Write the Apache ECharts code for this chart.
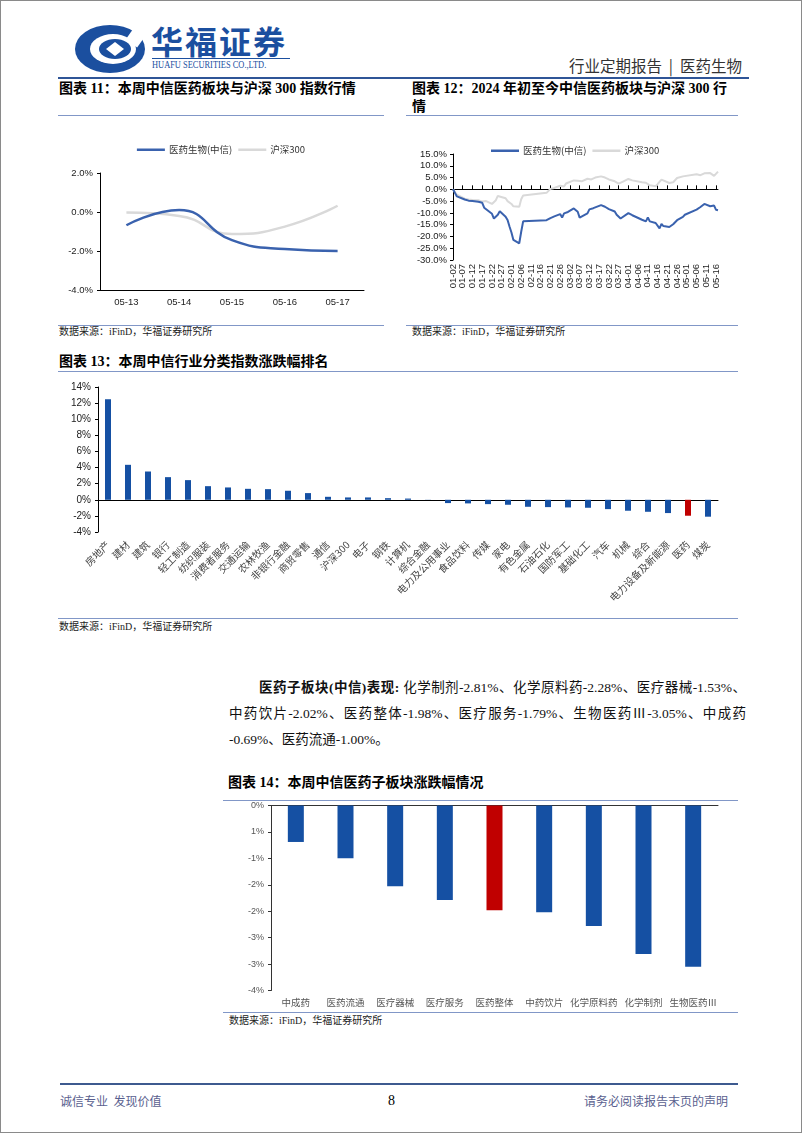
<!DOCTYPE html>
<html><head><meta charset="utf-8">
<script src="https://cdn.jsdelivr.net/npm/echarts@6/dist/echarts.min.js"></script>
<style>
html,body{margin:0;padding:0;background:#fff;}
#page{position:relative;width:802px;height:1133px;box-sizing:border-box;border:1px solid #8a8a8a;overflow:hidden;font-family:"Noto Sans CJK SC",sans-serif;color:#000;}
.abs{position:absolute;white-space:nowrap;}
.title{font-family:"Liberation Serif","Noto Sans CJK SC",serif;font-size:14px;font-weight:bold;line-height:18px;}
.src{font-family:"Liberation Serif","Noto Sans CJK SC",serif;font-size:10px;color:#222;line-height:12px;}
.hl{position:absolute;height:0;border-top:1.5px solid #8197C7;}
.chart{position:absolute;}
.para{position:absolute;font-family:"Liberation Serif","Noto Sans CJK SC",serif;font-size:13.5px;color:#111;}
.pl{height:26.3px;line-height:26.3px;text-align:justify;text-align-last:justify;}
.pl.last{text-align-last:left;}
</style></head>
<body>
<div id="page">
  <!-- header -->
  <svg class="abs" style="left:72px;top:22px" width="76" height="52" viewBox="0 0 76 52">
    <ellipse cx="37" cy="26" rx="35" ry="24" fill="#1b4f9f"/>
    <ellipse cx="40" cy="26" rx="23" ry="15" fill="#fff"/>
    <ellipse cx="42" cy="26" rx="16" ry="10" fill="#1b4f9f"/>
    <polygon points="42,19 51,26 42,33 33,26" fill="#fff"/>
    <rect x="56" y="6" width="14" height="16" fill="#fff" transform="rotate(35 63 14)"/>
  </svg>
  <div class="abs" style="left:150px;top:20px;font-size:32px;font-weight:bold;color:#1b4f9f;letter-spacing:2px;line-height:38px;">华福证券</div>
  <div class="abs" style="left:151px;top:57px;width:138px;border-top:1px solid #1b4f9f;"></div>
  <div class="abs" style="left:151px;top:58px;font-family:'Liberation Serif',serif;font-size:10.5px;color:#1b4f9f;transform:scaleX(0.8);transform-origin:left top;line-height:12px;">HUAFU SECURITIES CO.,LTD.</div>
  <div class="abs" style="right:59px;top:54px;font-size:15.5px;color:#333;line-height:20px;">行业定期报告&nbsp;&nbsp;|&nbsp;&nbsp;医药生物</div>
  <div class="abs" style="left:57px;top:76px;width:691px;border-top:2px solid #2f5597;"></div>

  <!-- chart 11 / 12 titles -->
  <div class="abs title" style="left:58px;top:79px;">图表 11：本周中信医药板块与沪深 300 指数行情</div>
  <div class="abs title" style="left:411px;top:79px;">图表 12：2024 年初至今中信医药板块与沪深 300 行<br>情</div>
  <div class="hl" style="left:57px;top:113.5px;width:326px;"></div>
  <div class="hl" style="left:405px;top:113.5px;width:332px;"></div>
  <div id="c11" class="chart" style="left:57px;top:115px;width:326px;height:208px;"></div>
  <div id="c12" class="chart" style="left:405px;top:115px;width:332px;height:208px;"></div>
  <div class="hl" style="left:57px;top:323.5px;width:326px;"></div>
  <div class="hl" style="left:405px;top:323.5px;width:332px;"></div>
  <div class="abs src" style="left:58px;top:325px;">数据来源：iFinD，华福证券研究所</div>
  <div class="abs src" style="left:411px;top:325px;">数据来源：iFinD，华福证券研究所</div>

  <!-- chart 13 -->
  <div class="abs title" style="left:58px;top:352px;">图表 13：本周中信行业分类指数涨跌幅排名</div>
  <div class="hl" style="left:57px;top:370px;width:680px;"></div>
  <div id="c13" class="chart" style="left:57px;top:372px;width:680px;height:245px;"></div>
  <div class="hl" style="left:57px;top:617px;width:680px;"></div>
  <div class="abs src" style="left:58px;top:620px;">数据来源：iFinD，华福证券研究所</div>

  <!-- paragraph -->
  <div class="para" style="left:228px;top:673.5px;width:517px;">
    <div class="pl" style="padding-left:30px;"><b>医药子板块(中信)表现:</b> 化学制剂-2.81%、化学原料药-2.28%、医疗器械-1.53%、</div>
    <div class="pl">中药饮片-2.02%、医药整体-1.98%、医疗服务-1.79%、生物医药Ⅲ-3.05%、中成药</div>
    <div class="pl last">-0.69%、医药流通-1.00%。</div>
  </div>

  <!-- chart 14 -->
  <div class="abs title" style="left:227px;top:773px;">图表 14：本周中信医药子板块涨跌幅情况</div>
  <div class="hl" style="left:222px;top:799px;width:515px;"></div>
  <div id="c14" class="chart" style="left:222px;top:800px;width:515px;height:211px;"></div>
  <div class="hl" style="left:222px;top:1011px;width:515px;"></div>
  <div class="abs src" style="left:228px;top:1014px;">数据来源：iFinD，华福证券研究所</div>

  <!-- footer -->
  <div class="abs" style="left:59px;top:1082px;width:678px;border-top:2px solid #3d5a8f;"></div>
  <div class="abs" style="left:59px;top:1092px;font-size:12px;color:#5a5f8f;line-height:16px;">诚信专业&nbsp;&nbsp;发现价值</div>
  <div class="abs" style="left:387px;top:1091px;font-family:'Liberation Serif',serif;font-size:14px;color:#000;line-height:18px;">8</div>
  <div class="abs" style="right:73px;top:1092px;font-size:12px;color:#5a5f8f;line-height:16px;">请务必阅读报告末页的声明</div>
</div>

<script>
// ---------- Chart 11 data ----------
const c11Cats = ['05-13','05-14','05-15','05-16','05-17'];
const c11Health = [-0.68, 0.10, -1.44, -1.90, -2.00];
const c11Hs300 = [-0.03, -0.20, -1.13, -0.75, 0.32];
const seriesNames = ['医药生物(中信)', '沪深300'];

// ---------- Chart 12 data (calendar dates, trading-day readings) ----------
const c12Health = [
 ['01-02',0],['01-03',-1.5],['01-04',-3.0],['01-05',-3.8],['01-08',-4.3],['01-09',-4.6],['01-10',-4.8],['01-11',-4.7],['01-12',-5.0],
 ['01-15',-5.3],['01-16',-5.4],['01-17',-5.7],['01-18',-7.8],['01-19',-8.3],['01-22',-10.4],['01-23',-12.4],['01-24',-11.8],['01-25',-10.8],['01-26',-9.3],
 ['01-29',-11.6],['01-30',-13.0],['01-31',-15.8],['02-01',-18.3],['02-02',-21.5],['02-05',-22.9],['02-06',-18.0],['02-07',-13.6],['02-08',-13.1],
 ['02-19',-13.1],['02-20',-12.5],['02-21',-12.2],['02-22',-11.7],['02-23',-11.5],['02-26',-10.5],['02-27',-12.0],['02-28',-10.2],['02-29',-10.0],['03-01',-9.6],
 ['03-04',-8.1],['03-05',-8.4],['03-06',-9.5],['03-07',-12.0],['03-08',-11.6],['03-11',-10.2],['03-12',-8.5],['03-13',-8.2],['03-14',-8.0],['03-15',-7.7],
 ['03-18',-6.7],['03-19',-6.5],['03-20',-7.4],['03-21',-7.8],['03-22',-8.4],['03-25',-9.4],['03-26',-10.8],['03-27',-11.3],['03-28',-12.4],['03-29',-11.7],
 ['04-01',-10.1],['04-02',-10.6],['04-03',-11.0],['04-08',-12.9],['04-09',-13.2],['04-10',-13.6],['04-11',-11.9],['04-12',-13.6],
 ['04-15',-14.3],['04-16',-14.6],['04-17',-16.6],['04-18',-14.7],['04-19',-15.6],['04-22',-16.0],['04-23',-15.6],['04-24',-14.8],['04-25',-14.2],['04-26',-13.1],
 ['04-29',-11.7],['04-30',-10.8],['05-06',-8.6],['05-07',-8.0],['05-08',-7.5],['05-09',-6.8],['05-10',-6.2],
 ['05-13',-7.2],['05-14',-7.6],['05-15',-6.9],['05-16',-8.7],['05-17',-8.9]
];
const c12Hs300 = [
 ['01-02',0],['01-03',-1.2],['01-04',-2.3],['01-05',-3.0],['01-08',-4.0],['01-09',-4.0],['01-10',-4.3],['01-11',-4.2],['01-12',-4.5],
 ['01-15',-4.6],['01-16',-4.4],['01-17',-5.2],['01-18',-4.5],['01-19',-5.0],['01-22',-6.2],['01-23',-5.8],['01-24',-4.6],['01-25',-2.8],['01-26',-2.5],
 ['01-29',-3.8],['01-30',-5.0],['01-31',-5.8],['02-01',-6.2],['02-02',-7.2],['02-05',-7.4],['02-06',-4.2],['02-07',-2.6],['02-08',-1.8],
 ['02-19',-1.5],['02-20',-0.9],['02-21',0.2],['02-22',1.0],['02-23',0.6],['02-26',1.5],['02-27',2.2],['02-28',1.2],['02-29',2.5],['03-01',2.8],
 ['03-04',3.8],['03-05',4.0],['03-06',3.6],['03-07',3.2],['03-08',3.4],['03-11',4.5],['03-12',4.4],['03-13',4.2],['03-14',4.6],['03-15',5.0],
 ['03-18',5.5],['03-19',4.8],['03-20',5.0],['03-21',5.2],['03-22',4.2],['03-25',3.4],['03-26',3.6],['03-27',2.4],['03-28',2.7],['03-29',3.2],
 ['04-01',4.4],['04-02',4.1],['04-03',3.8],['04-08',3.0],['04-09',3.3],['04-10',2.8],['04-11',2.4],['04-12',1.7],
 ['04-15',1.3],['04-16',2.2],['04-17',3.2],['04-18',4.1],['04-19',3.4],['04-22',2.7],['04-23',2.5],['04-24',3.0],['04-25',3.6],['04-26',4.8],
 ['04-29',5.5],['04-30',5.4],['05-06',6.4],['05-07',6.3],['05-08',6.0],['05-09',6.6],['05-10',6.8],
 ['05-13',6.9],['05-14',6.6],['05-15',5.7],['05-16',6.4],['05-17',7.5]
];
const c12StartDate = '2024-01-02';
const c12EndDate = '2024-05-17';

// ---------- Chart 13 data ----------
const c13Cats = ['房地产','建材','建筑','银行','轻工制造','纺织服装','消费者服务','交通运输','农林牧渔','非银行金融','商贸零售','通信','沪深300','电子','钢铁','计算机','综合金融','电力及公用事业','食品饮料','传媒','家电','有色金属','石油石化','国防军工','基础化工','汽车','机械','综合','电力设备及新能源','医药','煤炭'];
const c13Values = [12.48,4.34,3.51,2.81,2.44,1.69,1.53,1.36,1.32,1.12,0.83,0.37,0.29,0.29,0.20,0.15,0.02,-0.41,-0.45,-0.54,-0.62,-0.87,-0.91,-0.95,-0.99,-1.16,-1.36,-1.49,-1.65,-1.98,-2.10];
const c13Highlight = '医药';

// ---------- Chart 14 data ----------
const c14Cats = ['中成药','医药流通','医疗器械','医疗服务','医药整体','中药饮片','化学原料药','化学制剂','生物医药Ⅲ'];
const c14Values = [-0.69,-1.00,-1.53,-1.79,-1.98,-2.02,-2.28,-2.81,-3.05];
const c14Highlight = '医药整体';
const c14YTickLabels = ['0%','1%','-1%','-2%','-2%','-3%','-3%','-4%'];

// ---------- styles ----------
const BLUE_LINE = '#3a62ae', GRAY_LINE = '#d9d9d9';
const BAR_BLUE = '#1550a3', BAR_RED = '#c00000';
const NUMFONT = '"Liberation Sans", Arial, "Noto Sans CJK SC", sans-serif';
const CJKFONT = '"Noto Sans CJK SC", sans-serif';

// build calendar-day category list for chart 12
function buildDays(a, b) {
  const out = [];
  const d = new Date(a + 'T00:00:00Z'), e = new Date(b + 'T00:00:00Z');
  while (d <= e) {
    const m = String(d.getUTCMonth() + 1).padStart(2, '0');
    const dd = String(d.getUTCDate()).padStart(2, '0');
    out.push(m + '-' + dd);
    d.setUTCDate(d.getUTCDate() + 1);
  }
  return out;
}
const c12Days = buildDays(c12StartDate, c12EndDate);
function toSeries(days, pts) {
  const map = {};
  pts.forEach(p => { map[p[0]] = p[1]; });
  return days.map(d => (d in map ? map[d] : null));
}

const legendCommon = {
  icon: 'rect', itemWidth: 28, itemHeight: 2.5, itemGap: 6,
  textStyle: { fontSize: 9.5, color: '#333', fontFamily: CJKFONT, padding: [0, 0, 0, -1] }
};

// ---------- Chart 11 ----------
const ch11 = echarts.init(document.getElementById('c11'), null, { renderer: 'canvas' });
ch11.setOption({
  animation: false,
  legend: Object.assign({ top: 24, left: 'center', data: seriesNames }, legendCommon),
  grid: { left: 42, top: 57, width: 264, height: 117 },
  xAxis: {
    type: 'category', data: c11Cats, boundaryGap: true,
    axisLine: { onZero: false, lineStyle: { color: '#000', width: 1 } },
    axisTick: { inside: true, length: 4, lineStyle: { color: '#000' } },
    axisLabel: { fontSize: 9.5, color: '#222', fontFamily: NUMFONT, margin: 8 }
  },
  yAxis: {
    type: 'value', min: -4, max: 2, interval: 2,
    axisLine: { show: true, lineStyle: { color: '#000', width: 1 } },
    axisTick: { show: true, length: 3, lineStyle: { color: '#000' } },
    splitLine: { show: false },
    axisLabel: { fontSize: 9.5, color: '#222', fontFamily: NUMFONT, margin: 7, formatter: v => v.toFixed(1) + '%' }
  },
  series: [
    { name: seriesNames[0], type: 'line', data: c11Health, smooth: true, symbol: 'none', lineStyle: { color: BLUE_LINE, width: 2.5 }, itemStyle: { color: BLUE_LINE }, z: 3 },
    { name: seriesNames[1], type: 'line', data: c11Hs300, smooth: true, symbol: 'none', lineStyle: { color: GRAY_LINE, width: 2.5 }, itemStyle: { color: GRAY_LINE }, z: 2 }
  ]
});

// ---------- Chart 12 ----------
const ch12 = echarts.init(document.getElementById('c12'), null, { renderer: 'canvas' });
ch12.setOption({
  animation: false,
  legend: Object.assign({ top: 25, left: 80, data: seriesNames }, legendCommon),
  grid: { left: 47, top: 38, width: 265, height: 106 },
  xAxis: [
    {
      type: 'category', data: c12Days, boundaryGap: false,
      axisLine: { onZero: true, lineStyle: { color: '#000', width: 1 } },
      axisTick: { inside: true, length: 4, interval: 4, lineStyle: { color: '#000' } },
      axisLabel: { show: false }
    },
    {
      type: 'category', data: c12Days, boundaryGap: false, position: 'bottom',
      axisLine: { show: false, onZero: false },
      axisTick: { show: false },
      axisLabel: { rotate: 90, interval: 4, hideOverlap: false, fontSize: 9.5, lineHeight: 8, color: '#222', fontFamily: NUMFONT, margin: 4 }
    }
  ],
  yAxis: {
    type: 'value', min: -30, max: 15, interval: 5,
    axisLine: { show: true, lineStyle: { color: '#000', width: 1 } },
    axisTick: { show: true, length: 3, lineStyle: { color: '#000' } },
    splitLine: { show: false },
    axisLabel: { fontSize: 9.5, color: '#222', fontFamily: NUMFONT, margin: 6, formatter: v => v.toFixed(1) + '%' }
  },
  series: [
    { name: seriesNames[0], type: 'line', xAxisIndex: 0, data: toSeries(c12Days, c12Health), connectNulls: true, symbol: 'none', lineStyle: { color: BLUE_LINE, width: 2 }, itemStyle: { color: BLUE_LINE }, z: 3 },
    { name: seriesNames[1], type: 'line', xAxisIndex: 0, data: toSeries(c12Days, c12Hs300), connectNulls: true, symbol: 'none', lineStyle: { color: GRAY_LINE, width: 2 }, itemStyle: { color: GRAY_LINE }, z: 2 }
  ]
});

// ---------- Chart 13 ----------
const ch13 = echarts.init(document.getElementById('c13'), null, { renderer: 'canvas' });
ch13.setOption({
  animation: false,
  grid: { left: 40, top: 14, width: 620, height: 145 },
  xAxis: [
    {
      type: 'category', data: c13Cats, boundaryGap: true,
      axisLine: { onZero: true, lineStyle: { color: '#000', width: 1 } },
      axisTick: { inside: true, length: 3, lineStyle: { color: '#000' } },
      axisLabel: { show: false }
    },
    {
      type: 'category', data: c13Cats, boundaryGap: true, position: 'bottom',
      axisLine: { show: false, onZero: false },
      axisTick: { show: false },
      axisLabel: { rotate: 45, interval: 0, fontSize: 10, color: '#444', fontFamily: CJKFONT, margin: 11 }
    }
  ],
  yAxis: {
    type: 'value', min: -4, max: 14, interval: 2,
    axisLine: { show: true, lineStyle: { color: '#000', width: 1 } },
    axisTick: { show: true, length: 3, lineStyle: { color: '#000' } },
    splitLine: { show: false },
    axisLabel: { fontSize: 10, color: '#222', fontFamily: NUMFONT, margin: 7, formatter: v => v + '%' }
  },
  series: [{
    type: 'bar', xAxisIndex: 0, data: c13Values, barWidth: 6,
    itemStyle: { color: p => (c13Cats[p.dataIndex] === c13Highlight ? BAR_RED : BAR_BLUE) }
  }]
});

// ---------- Chart 14 ----------
const ch14 = echarts.init(document.getElementById('c14'), null, { renderer: 'canvas' });
ch14.setOption({
  animation: false,
  grid: { left: 48, top: 4, width: 447, height: 185.5 },
  xAxis: [
    {
      type: 'category', data: c14Cats, boundaryGap: true, position: 'top',
      axisLine: { onZero: false, lineStyle: { color: '#333', width: 1 } },
      axisTick: { inside: false, length: 4, lineStyle: { color: '#333' } },
      axisLabel: { show: false }
    },
    {
      type: 'category', data: c14Cats, boundaryGap: true, position: 'bottom',
      axisLine: { show: false, onZero: false },
      axisTick: { show: false },
      axisLabel: { interval: 0, fontSize: 9.5, color: '#555', fontFamily: CJKFONT, margin: 7 }
    }
  ],
  yAxis: {
    type: 'value', min: -3.5, max: 0, interval: 0.5,
    axisLine: { show: true, lineStyle: { color: '#333', width: 1 } },
    axisTick: { show: true, length: 3, lineStyle: { color: '#333' } },
    splitLine: { show: false },
    axisLabel: { fontSize: 9, color: '#555', fontFamily: NUMFONT, margin: 7, formatter: v => c14YTickLabels[Math.round(-v / 0.5)] }
  },
  series: [{
    type: 'bar', xAxisIndex: 0, data: c14Values, barWidth: 16,
    itemStyle: { color: p => (c14Cats[p.dataIndex] === c14Highlight ? BAR_RED : BAR_BLUE) }
  }]
});
</script>
</body></html>
